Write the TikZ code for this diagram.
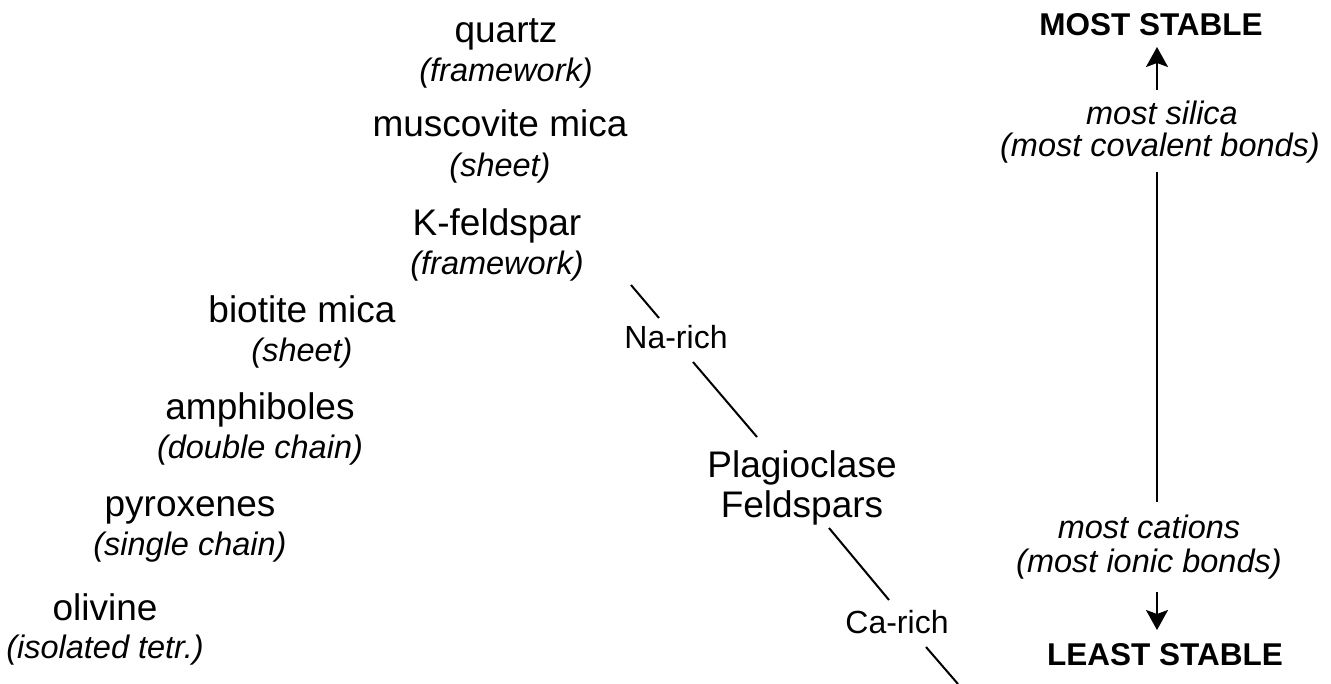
\documentclass[tikz,border=0pt]{standalone}
\usepackage{fontspec}
\setmainfont{Liberation Sans}
\usetikzlibrary{arrows.meta}
\begin{document}
\begin{tikzpicture}[x=1pt,y=-1pt,
 big/.style={anchor=base,inner sep=0pt,font=\fontsize{37}{40}\selectfont},
 sub/.style={anchor=base,inner sep=0pt,font=\fontsize{32.5}{34}\selectfont\itshape},
 lbl/.style={anchor=base,inner sep=0pt,font=\fontsize{32}{34}\selectfont},
 head/.style={anchor=base,inner sep=0pt,font=\fontsize{31.5}{34}\selectfont\bfseries},
 ln/.style={line width=2pt},
 arr/.style={line width=2pt,-{Stealth[length=20pt,width=22pt,inset=4pt]}}]
\useasboundingbox (0,0) rectangle (1331,683);
% mineral series
\node[big] (qz) at (506,42) {quartz};
\node[sub] (qzt) at (506,81) {(framework)};
\node[big] (mu) at (500,136) {muscovite mica};
\node[sub] (mut) at (500,176) {(sheet)};
\node[big] (kf) at (497,235) {K-feldspar};
\node[sub] (kft) at (497,274) {(framework)};
\node[big] (bi) at (302,322) {biotite mica};
\node[sub] (bit) at (302,361) {(sheet)};
\node[big] (am) at (260,419) {amphiboles};
\node[sub] (amt) at (260,458) {(double chain)};
\node[big] (py) at (190,516) {pyroxenes};
\node[sub] (pyt) at (190,555) {(single chain)};
\node[big] (ol) at (105,620) {olivine};
\node[sub] (olt) at (105,658) {(isolated tetr.)};
% plagioclase branch
\node[lbl] (na) at (676,348) {Na-rich};
\node[big] (pl) at (802,477) {Plagioclase};
\node[big] (fe) at (802,517) {Feldspars};
\node[lbl] (ca) at (897,633) {Ca-rich};
\coordinate (p1) at (631,285);
\coordinate (p2) at (659,318);
\coordinate (p3) at (693,362);
\coordinate (p4) at (757,437);
\coordinate (p5) at (829,528);
\coordinate (p6) at (889,600);
\coordinate (p7) at (926,647);
\coordinate (p8) at (958,684);
\draw[ln] (p1) -- (p2);
\draw[ln] (p3) -- (p4);
\draw[ln] (p5) -- (p6);
\draw[ln] (p7) -- (p8);
% stability axis
\node[head] (ms) at (1151,35) {MOST STABLE};
\node[sub] (s1) at (1162,124) {most silica};
\node[sub] (s2) at (1160,156) {(most covalent bonds)};
\node[sub] (c1) at (1149,538) {most cations};
\node[sub] (c2) at (1149,572) {(most ionic bonds)};
\node[head] (ls) at (1165,665) {LEAST STABLE};
\coordinate (a1) at (1157,90);
\coordinate (a2) at (1157,47);
\coordinate (a3) at (1157,172);
\coordinate (a4) at (1157,502);
\coordinate (a5) at (1157,592);
\coordinate (a6) at (1157,630);
\draw[arr] (a1) -- (a2);
\draw[ln] (a3) -- (a4);
\draw[arr] (a5) -- (a6);
\end{tikzpicture}
\end{document}
